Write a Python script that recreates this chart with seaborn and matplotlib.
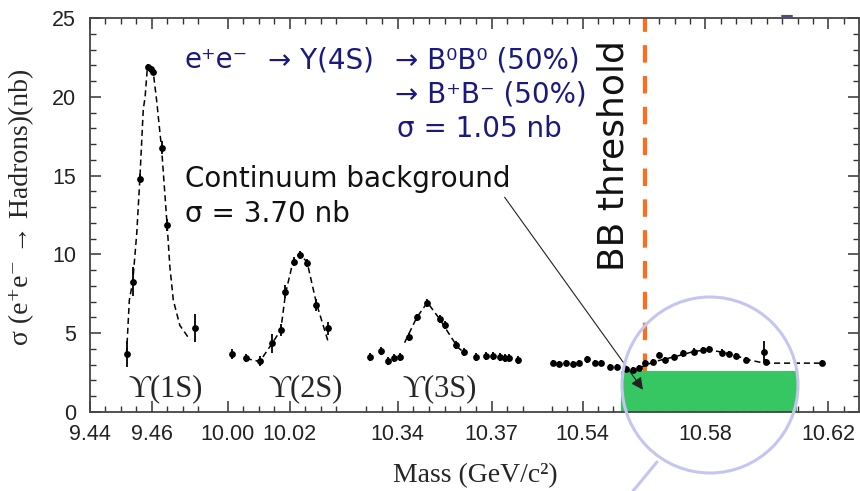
import numpy as np
import matplotlib
matplotlib.use('Agg')
import matplotlib.pyplot as plt
from matplotlib.patches import Ellipse
from matplotlib.lines import Line2D
import seaborn as sns

sns.set_style('ticks')
plt.rcParams['font.family'] = ['DejaVu Sans']

# --- data ---
# Upsilon(1S)
m1 = [9.4518, 9.4538, 9.4561, 9.4588, 9.4596, 9.4604, 9.4631, 9.4649, 9.4740]
s1 = [3.68, 8.27, 14.8, 21.9, 21.75, 21.6, 16.77, 11.87, 5.35]
e1 = [0.8, 0.9, 0.3, 0.2, 0.2, 0.2, 0.4, 0.4, 0.9]
fit1_m = [9.4518, 9.4527, 9.4538, 9.4551, 9.4561, 9.4572, 9.4578, 9.4585, 9.4604,
          9.4615, 9.4626, 9.4631, 9.4649, 9.4658, 9.4669, 9.4690, 9.4723]
fit1_s = [3.7, 7.1, 8.27, 11.35, 14.8, 19.2, 20.0, 21.8, 21.6,
          19.8, 17.7, 16.77, 11.87, 9.2, 7.1, 5.5, 4.57]

# Upsilon(2S)
m2 = [10.0012, 10.0058, 10.0103, 10.0141, 10.0171, 10.0186, 10.0214, 10.0232, 10.0256, 10.0286, 10.0322]
s2 = [3.68, 3.4, 3.23, 4.36, 5.2, 7.63, 9.54, 9.96, 9.43, 6.79, 5.31]
e2 = [0.3, 0.25, 0.3, 0.6, 0.4, 0.4, 0.3, 0.25, 0.25, 0.35, 0.4]
fit2_m = [10.0058, 10.0103, 10.0141, 10.0171, 10.0186, 10.0211, 10.0232, 10.0256, 10.0286, 10.0324]
fit2_s = [3.4, 3.2, 4.3, 5.2, 7.5, 9.6, 10.05, 9.5, 6.9, 4.45]

# Upsilon(3S)
m3 = [10.3313, 10.3348, 10.3369, 10.3387, 10.3406, 10.3436, 10.3462, 10.3495, 10.3534, 10.3550,
      10.3585, 10.3612, 10.3649, 10.3681, 10.3704, 10.3726, 10.3742, 10.3757, 10.3784]
s3 = [3.51, 3.89, 3.24, 3.4, 3.47, 4.74, 6.0, 6.94, 5.88, 5.52,
      4.25, 3.83, 3.47, 3.55, 3.55, 3.47, 3.4, 3.4, 3.3]
e3 = [0.25] * len(m3)
fit3_m = [10.3422, 10.3461, 10.3495, 10.3534, 10.3566, 10.3592, 10.3617]
fit3_s = [4.4, 6.0, 6.95, 5.9, 4.9, 4.1, 3.7]

# Upsilon(4S)
m4 = [10.5303, 10.5325, 10.5347, 10.5368, 10.5390, 10.5415, 10.5439, 10.5461, 10.5488, 10.5512,
      10.5542, 10.5564, 10.5585, 10.5602, 10.5629, 10.5650, 10.5667, 10.5699, 10.5726, 10.5764,
      10.5791, 10.5813, 10.5854, 10.5878, 10.5900, 10.5932, 10.5992, 10.5997, 10.6181]
s4 = [3.09, 3.05, 3.09, 3.05, 3.13, 3.34, 3.09, 3.13, 2.87, 2.87,
      2.71, 2.67, 2.77, 3.09, 3.19, 3.62, 3.3, 3.51, 3.72, 3.83,
      3.93, 3.98, 3.77, 3.68, 3.55, 3.3, 3.83, 3.19, 3.09]
e4 = [0.2] * 26 + [0.7, 0.2, 0.2]
fit4_m = [10.5585, 10.5634, 10.5699, 10.5764, 10.5813, 10.5878, 10.5943, 10.5992, 10.6073, 10.6177]
fit4_s = [2.8, 3.2, 3.5, 3.85, 3.95, 3.7, 3.3, 3.1, 3.1, 3.1]

bb_threshold = 10.5602
bb_band = [10.5524, 10.6099]
bb_band_height = 2.6

major_ticks = [9.44, 9.46, 10.00, 10.02, 10.34, 10.37, 10.54, 10.58, 10.62]
tick_labels = ['9.44', '9.46', '10.00', '10.02', '10.34', '10.37', '10.54', '10.58', '10.62']
ups_labels = ['ϒ(1S)', 'ϒ(2S)', 'ϒ(3S)']
ups_mass = [9.4645, 10.0252, 10.3534]

# --- broken mass axis: piecewise linear scale ---
brk_mass = [9.44, 9.478, 10.00, 10.035, 10.33, 10.38, 10.53, 10.63]
brk_pos = [90, 207.8, 228, 336.5, 366.7, 523.3, 552.3, 859.8]


def fwd(m):
    return np.interp(m, brk_mass, brk_pos)


def inv(p):
    return np.interp(p, brk_pos, brk_mass)


fig = plt.figure(figsize=(8.6, 4.91), dpi=100)
ax = fig.add_axes([90 / 860, 79 / 491, 769 / 860, 394 / 491])
ax.set_xscale('function', functions=(fwd, inv))
ax.set_xlim(9.44, 10.63)
ax.set_ylim(0, 25)

# continuum band + threshold
ax.fill_between(bb_band, 0, bb_band_height, color='#36c763', lw=0, zorder=1)
ax.plot([bb_threshold, bb_threshold], [bb_band_height, 25], color='#ff6d1a', lw=3,
        linestyle=(0, (4.2, 3.2)), zorder=2)

for m, s, e, fm, fs in [(m1, s1, e1, fit1_m, fit1_s), (m2, s2, e2, fit2_m, fit2_s),
                        (m3, s3, e3, fit3_m, fit3_s), (m4, s4, e4, fit4_m, fit4_s)]:
    sns.lineplot(x=fm, y=fs, ax=ax, color='black', lw=1.1, sort=False,
                 linestyle=(0, (4, 2.5)), zorder=3)
    ax.errorbar(m, s, yerr=e, fmt='none', ecolor='black', elinewidth=1.3, capsize=0, zorder=4)
    sns.scatterplot(x=m, y=s, ax=ax, color='black', s=24, edgecolor='black', linewidth=0, zorder=5)

# ticks
minor = []
for a, b in [(9.44, 9.476), (10.00, 10.036), (10.33, 10.381), (10.53, 10.626)]:
    minor += list(np.arange(a, b, 0.005))
ax.set_xticks(major_ticks)
ax.set_xticklabels(tick_labels)
ax.set_xticks(minor, minor=True)
ax.set_yticks(range(0, 26, 5))
ax.set_yticks(range(0, 26), minor=True)
ax.tick_params(which='both', direction='in', top=True, right=True, color='#333333',
               labelsize=15.5, labelcolor='#222222')
ax.tick_params(which='major', length=8, width=1.1)
ax.tick_params(which='minor', length=4, width=1.0)
ax.tick_params(axis='x', pad=9)
ax.tick_params(axis='y', pad=10)
for lab in ax.get_xticklabels() + ax.get_yticklabels():
    lab.set_family('Liberation Sans')
for sp in ax.spines.values():
    sp.set_color('#444444')
    sp.set_linewidth(1.3)

ax.set_xlabel('Mass (GeV/c²)', family=['Liberation Serif', 'DejaVu Serif'], fontsize=20)
ax.set_ylabel('σ (e⁺e⁻ → Hadrons)(nb)', family=['Liberation Serif', 'DejaVu Serif'],
              fontsize=20)
ax.yaxis.set_label_coords(-56 / 769, 0.52)
ax.xaxis.set_label_coords((475 - 90) / 769, -51 / 394)

# resonance labels
for lab, xm in zip(ups_labels, ups_mass):
    ax.text(xm, 1.0, lab, ha='center', va='baseline', fontsize=22,
            family=['Liberation Serif', 'DejaVu Serif'])

# annotation text
navy = '#1a1a7e'
fig.text(185 / 860, 1 - 68 / 491, 'e⁺e⁻', color=navy, fontsize=20, va='baseline')
fig.text(268 / 860, 1 - 68 / 491, '→ Y(4S)', color=navy, fontsize=20, va='baseline')
fig.text(395 / 860, 1 - 68 / 491, '→ B⁰B⁰ (50%)', color=navy, fontsize=20, va='baseline')
fig.text(395 / 860, 1 - 103 / 491, '→ B⁺B⁻ (50%)', color=navy, fontsize=20, va='baseline')
fig.text(397 / 860, 1 - 137 / 491, 'σ = 1.05 nb', color=navy, fontsize=20, va='baseline')
fig.text(185 / 860, 1 - 187 / 491, 'Continuum background', color='#111111', fontsize=20, va='baseline')
fig.text(185 / 860, 1 - 222 / 491, 'σ = 3.70 nb', color='#111111', fontsize=20, va='baseline')
fig.text(614 / 860, 1 - 156 / 491, 'BB threshold', rotation=90, fontsize=26,
         ha='center', va='center', color='#111111')

ax.annotate('', xy=(bb_threshold, 1.27), xycoords='data',
            xytext=(503, 491 - 195), textcoords='figure pixels',
            arrowprops=dict(arrowstyle='-|>', color='#222222', lw=0.8, mutation_scale=18))

# highlight circle
fig.add_artist(Ellipse((710 / 860, 1 - 385 / 491), 176 / 860, 176 / 491,
                       transform=fig.transFigure, fill=False, ec='#c5c5f2', lw=2.2))
fig.add_artist(Line2D([657 / 860, 633 / 860], [1 - 462 / 491, 1 - 491 / 491],
                      transform=fig.transFigure, color='#c5c5f2', lw=2.2))
fig.add_artist(Line2D([782 / 860, 792 / 860], [1 - 16 / 491, 1 - 16 / 491],
                      transform=fig.transFigure, color='#4a4a9a', lw=1.5))

fig.savefig('out.png', dpi=100)
